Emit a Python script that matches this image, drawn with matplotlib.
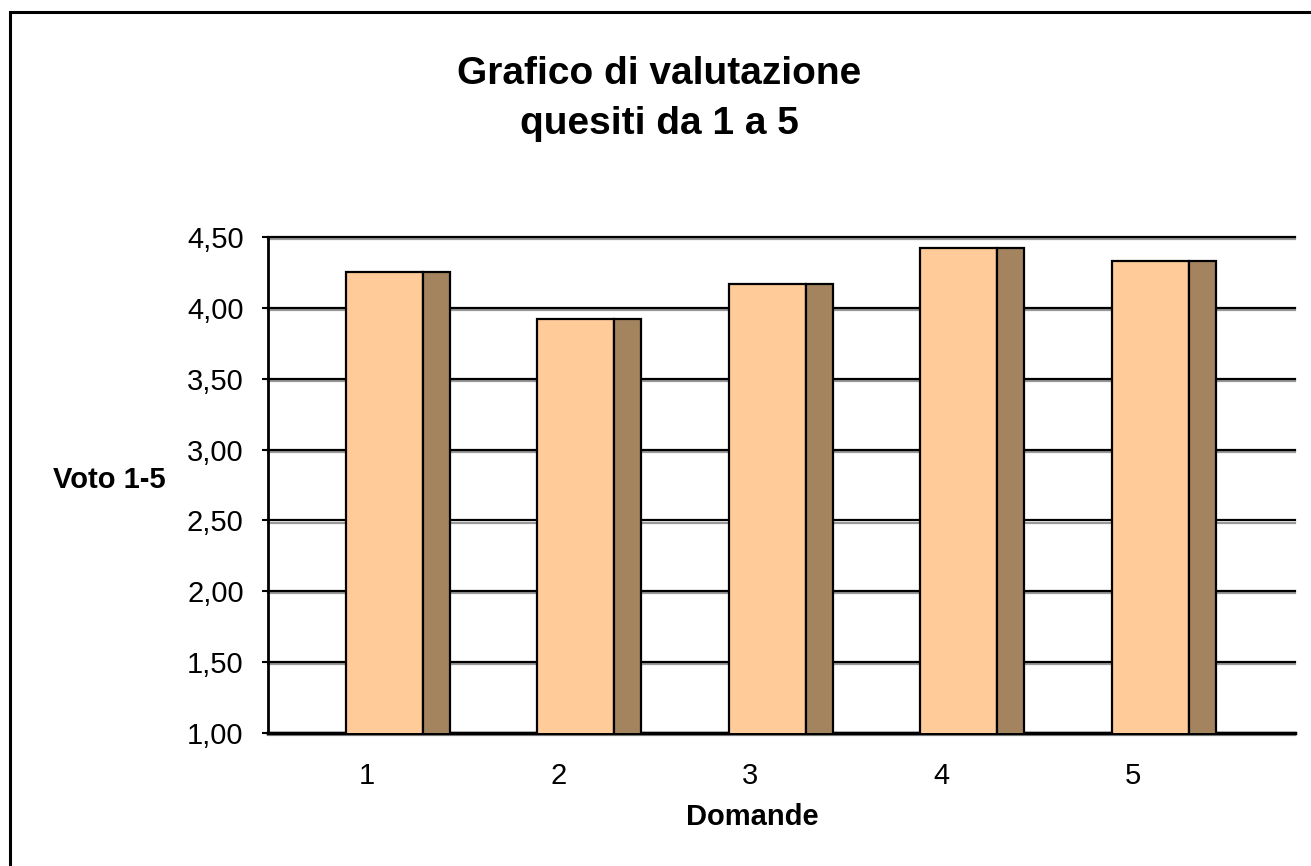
import matplotlib
matplotlib.use('Agg')
import matplotlib.pyplot as plt
import matplotlib.patheffects as pe
from matplotlib.patches import Rectangle

# dati
domande = [1, 2, 3, 4, 5]
voti = [4.25, 3.92, 4.17, 4.42, 4.33]
y_ticks = [1.00, 1.50, 2.00, 2.50, 3.00, 3.50, 4.00, 4.50]
y_labels = ['1,00', '1,50', '2,00', '2,50', '3,00', '3,50', '4,00', '4,50']

plt.rcParams['font.family'] = ['Liberation Sans', 'DejaVu Sans']

fig = plt.figure(figsize=(13.11, 8.66), dpi=100)

# bordo esterno del grafico
fig.patches.append(Rectangle((0.0076, -0.05), 1.05, 1.036, transform=fig.transFigure,
                             fill=False, lw=2.2, ec='black'))

ax = fig.add_axes([0.2044, 0.1536, 0.7834, 0.5727])

# faccia frontale + faccia laterale (finto 3D)
fronte = [d - 0.11 for d in domande]
lato = [d + 0.292 for d in domande]
b1 = ax.bar(fronte, voti, width=0.402, align='edge', color='#FFCC99',
            edgecolor='black', lw=1.6, zorder=3)
b2 = ax.bar(lato, voti, width=0.141, align='edge', color='#A3845F',
            edgecolor='black', lw=1.6, zorder=3)

ax.set_xlim(0.483, 5.846)
ax.set_ylim(1.0, 4.5)
ax.set_yticks(y_ticks)
ax.set_yticklabels(y_labels)
ax.set_xticks(domande)
ax.set_xticklabels([str(d) for d in domande])

ax.yaxis.grid(True, color='black', lw=1.6)
ax.set_axisbelow(True)
for gl in ax.get_ygridlines():
    gl.set_clip_on(False)
    gl.set_path_effects([pe.SimpleLineShadow(offset=(0, -1.5), shadow_color='#999999', alpha=1),
                         pe.Normal()])

for s in ['top', 'right']:
    ax.spines[s].set_visible(False)
ax.spines['left'].set_linewidth(2)
ax.spines['bottom'].set_linewidth(2.5)

ax.tick_params(axis='y', length=4.5, width=1.5, pad=13, labelsize=21)
ax.tick_params(axis='x', length=0, pad=21, labelsize=21)

fig.text(0.503, 1 - 99 / 866, 'Grafico di valutazione\nquesiti da 1 a 5',
         ha='center', va='center', fontsize=28, fontweight='bold', linespacing=1.5)
fig.text(0.0404, 1 - 480 / 866, 'Voto 1-5', ha='left', va='center',
         fontsize=21, fontweight='bold')
fig.text(0.5736, 1 - 817 / 866, 'Domande', ha='center', va='center',
         fontsize=21, fontweight='bold')

fig.savefig('out.png', dpi=100)
